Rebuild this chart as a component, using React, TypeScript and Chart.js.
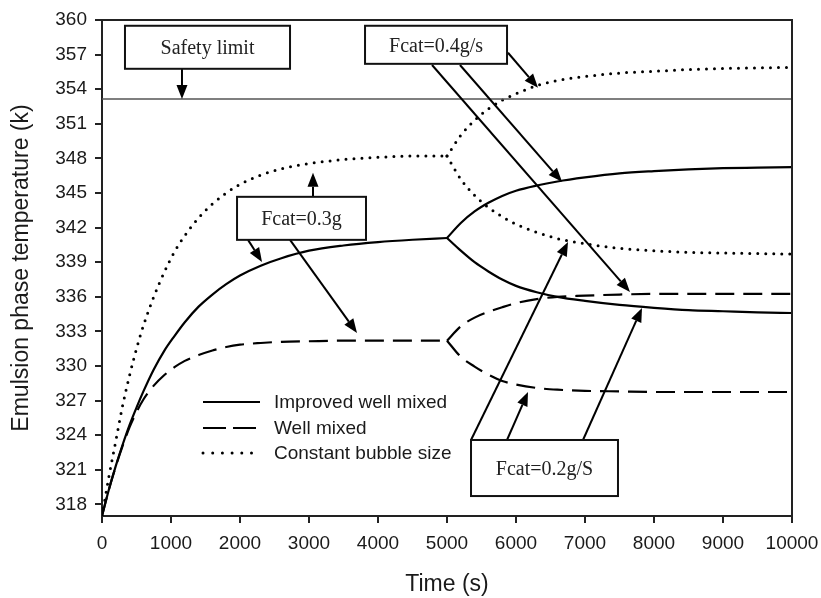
import React, { useEffect, useRef } from "react";
import { Chart, registerables } from "chart.js";

Chart.register(...registerables);

// ---------- data ----------
const BASE_TIME = [0, 100, 200, 300, 400, 500, 600, 750, 900, 1050, 1200, 1400, 1600, 1800, 2000, 2300, 2600, 3000, 3500, 4000, 4500, 5000];
const BRANCH_TIME = [5000, 5200, 5400, 5600, 5800, 6000, 6300, 6600, 7000, 7500, 8000, 8500, 9000, 9500, 10000];

// Improved well mixed (solid)
const IMPROVED_BASE = [317.0, 319.3, 321.35, 323.2, 324.9, 326.4, 327.8, 329.7, 331.3, 332.6, 333.8, 335.15, 336.2, 337.1, 337.85, 338.7, 339.35, 340.0, 340.45, 340.75, 340.95, 341.1];
const IMPROVED_HIGH = [341.1, 342.4, 343.4, 344.15, 344.75, 345.2, 345.65, 346.0, 346.35, 346.7, 346.9, 347.05, 347.15, 347.2, 347.25];
const IMPROVED_LOW = [341.1, 340.0, 339.0, 338.2, 337.5, 336.95, 336.4, 336.0, 335.65, 335.3, 335.05, 334.85, 334.75, 334.65, 334.6];

// Well mixed (dashed)
const WELL_BASE = [317.0, 319.3, 321.3, 323.1, 324.7, 326.0, 327.1, 328.3, 329.2, 329.9, 330.45, 330.95, 331.35, 331.65, 331.85, 332.0, 332.1, 332.15, 332.2, 332.2, 332.2, 332.2];
const WELL_HIGH = [332.2, 333.45, 334.2, 334.7, 335.1, 335.45, 335.8, 336.0, 336.1, 336.2, 336.25, 336.25, 336.25, 336.25, 336.25];
const WELL_LOW = [332.2, 330.8, 329.95, 329.25, 328.7, 328.4, 328.1, 327.95, 327.85, 327.8, 327.75, 327.75, 327.75, 327.75, 327.75];

// Constant bubble size (dotted)
const BUBBLE_BASE = [317.0, 320.4, 323.5, 326.6, 329.2, 331.5, 333.5, 336.0, 338.1, 339.9, 341.3, 342.85, 344.05, 345.0, 345.75, 346.55, 347.1, 347.55, 347.9, 348.1, 348.2, 348.2];
const BUBBLE_HIGH = [348.2, 350.0, 351.3, 352.3, 353.05, 353.6, 354.3, 354.75, 355.1, 355.4, 355.55, 355.7, 355.8, 355.85, 355.9];
const BUBBLE_LOW = [348.2, 346.2, 344.8, 343.75, 342.95, 342.3, 341.6, 341.05, 340.6, 340.2, 340.0, 339.85, 339.8, 339.75, 339.7];

const SAFETY_LIMIT = 353.15;

const Y_TICKS = [318, 321, 324, 327, 330, 333, 336, 339, 342, 345, 348, 351, 354, 357, 360];
const X_MIN = 0;
const X_MAX = 10000;
const X_STEP = 1000;
const Y_MIN = 317;
const Y_MAX = 360;

const LEGEND_LABELS = ["Improved well mixed", "Well mixed", "Constant bubble size"];

// annotation boxes in data units: [label, t0, t1, vTop, vBottom]
const BOXES: [string, number, number, number, number][] = [
  ["Safety limit", 333, 2725, 359.5, 355.77],
  ["Fcat=0.4g/s", 3812, 5870, 359.5, 356.2],
  ["Fcat=0.3g", 1957, 3826, 344.67, 340.94],
  ["Fcat=0.2g/S", 5348, 7478, 323.59, 318.73],
];
// arrows in data units: [tTail, vTail, tTip, vTip]
const ARROWS: [number, number, number, number][] = [
  [1159, 355.77, 1159, 353.15],
  [5884, 357.16, 6319, 354.13],
  [5188, 356.1, 6667, 345.97],
  [4783, 356.1, 7652, 336.43],
  [3058, 344.67, 3058, 346.75],
  [2116, 340.94, 2319, 339.03],
  [2725, 340.94, 3696, 332.87],
  [5348, 323.59, 6754, 340.76],
  [5870, 323.59, 6174, 327.75],
  [6971, 323.59, 7826, 335.04],
];

const pts = (t: number[], v: number[]) => t.map((x, i) => ({ x, y: v[i] }));

const SANS = '"Liberation Sans", Arial, sans-serif';
const SERIF = '"Liberation Serif", "Times New Roman", serif';

const SOLID: number[] = [];
const DASH = [19, 9];
const DOT = [0, 8];

function drawArrow(ctx: CanvasRenderingContext2D, x0: number, y0: number, x1: number, y1: number) {
  const ang = Math.atan2(y1 - y0, x1 - x0);
  const L = 14, W = 5.5;
  const bx = x1 - L * Math.cos(ang), by = y1 - L * Math.sin(ang);
  ctx.beginPath();
  ctx.moveTo(x0, y0);
  ctx.lineTo(bx, by);
  ctx.lineWidth = 2;
  ctx.strokeStyle = "#000";
  ctx.setLineDash([]);
  ctx.stroke();
  ctx.beginPath();
  ctx.moveTo(x1, y1);
  ctx.lineTo(bx + W * Math.sin(ang), by - W * Math.cos(ang));
  ctx.lineTo(bx - W * Math.sin(ang), by + W * Math.cos(ang));
  ctx.closePath();
  ctx.fillStyle = "#000";
  ctx.fill();
}

const overlayPlugin = {
  id: "overlay",
  afterDatasetsDraw(chart: any) {
    const { ctx, chartArea: ca, scales } = chart;
    const xs = scales.x, ys = scales.y;
    ctx.save();
    // top & right frame
    ctx.strokeStyle = "#222";
    ctx.lineWidth = 2;
    ctx.setLineDash([]);
    ctx.beginPath();
    ctx.moveTo(ca.left, ca.top);
    ctx.lineTo(ca.right, ca.top);
    ctx.lineTo(ca.right, ca.bottom);
    ctx.stroke();

    for (const a of ARROWS) {
      drawArrow(ctx, xs.getPixelForValue(a[0]), ys.getPixelForValue(a[1]), xs.getPixelForValue(a[2]), ys.getPixelForValue(a[3]));
    }
    ctx.font = `20px ${SERIF}`;
    ctx.textAlign = "center";
    ctx.textBaseline = "alphabetic";
    for (const b of BOXES) {
      const x0 = xs.getPixelForValue(b[1]), x1 = xs.getPixelForValue(b[2]);
      const y0 = ys.getPixelForValue(b[3]), y1 = ys.getPixelForValue(b[4]);
      ctx.fillStyle = "#fff";
      ctx.fillRect(x0, y0, x1 - x0, y1 - y0);
      ctx.strokeStyle = "#111";
      ctx.lineWidth = 2;
      ctx.strokeRect(x0, y0, x1 - x0, y1 - y0);
      ctx.fillStyle = "#222";
      ctx.fillText(b[0], (x0 + x1) / 2, (y0 + y1) / 2 + 7);
    }

    // legend
    const lx0 = ca.left + 101, lx1 = ca.left + 158, tx = ca.left + 172;
    const rows = [ca.top + 382, ca.top + 408, ca.top + 433];
    const dashes = [SOLID, [23, 7], [0, 9.7]];
    ctx.font = `19px ${SANS}`;
    ctx.textAlign = "left";
    ctx.textBaseline = "middle";
    for (let i = 0; i < 3; i++) {
      ctx.beginPath();
      ctx.setLineDash(dashes[i]);
      ctx.lineCap = i === 2 ? "round" : "butt";
      ctx.lineWidth = i === 2 ? 3 : 2.2;
      ctx.strokeStyle = "#000";
      ctx.moveTo(lx0, rows[i]);
      ctx.lineTo(lx1, rows[i]);
      ctx.stroke();
      ctx.setLineDash([]);
      ctx.fillStyle = "#1a1a1a";
      ctx.fillText(LEGEND_LABELS[i], tx, rows[i] + 1);
    }
    ctx.restore();
  },
};

export default function App() {
  const ref = useRef<HTMLCanvasElement | null>(null);
  useEffect(() => {
    if (!ref.current) return;
    const line = (label: string, t: number[], v: number[], dash: number[], opts: any = {}) => ({
      label,
      data: pts(t, v),
      borderColor: "#000",
      borderWidth: dash === DOT ? 3 : 2.2,
      borderDash: dash,
      borderCapStyle: dash === DOT ? "round" : "butt",
      pointRadius: 0,
      cubicInterpolationMode: "monotone",
      fill: false,
      ...opts,
    });
    const chart = new Chart(ref.current, {
      type: "line",
      data: {
        datasets: [
          {
            label: "Safety limit",
            data: [{ x: X_MIN, y: SAFETY_LIMIT }, { x: X_MAX, y: SAFETY_LIMIT }],
            borderColor: "#555",
            borderWidth: 1.6,
            pointRadius: 0,
            fill: false,
          },
          line(LEGEND_LABELS[0], BASE_TIME, IMPROVED_BASE, SOLID),
          line(LEGEND_LABELS[0] + " 0.4", BRANCH_TIME, IMPROVED_HIGH, SOLID),
          line(LEGEND_LABELS[0] + " 0.2", BRANCH_TIME, IMPROVED_LOW, SOLID),
          line(LEGEND_LABELS[1], BASE_TIME, WELL_BASE, DASH),
          line(LEGEND_LABELS[1] + " 0.4", BRANCH_TIME, WELL_HIGH, DASH),
          line(LEGEND_LABELS[1] + " 0.2", BRANCH_TIME, WELL_LOW, DASH),
          line(LEGEND_LABELS[2], BASE_TIME, BUBBLE_BASE, DOT),
          line(LEGEND_LABELS[2] + " 0.4", BRANCH_TIME, BUBBLE_HIGH, DOT),
          line(LEGEND_LABELS[2] + " 0.2", BRANCH_TIME, BUBBLE_LOW, DOT),
        ],
      },
      options: {
        animation: false,
        responsive: false,
        maintainAspectRatio: false,
        layout: { padding: { top: 20, right: 29, left: 0, bottom: 0 } },
        plugins: { legend: { display: false }, tooltip: { enabled: false } },
        scales: {
          x: {
            type: "linear",
            min: X_MIN,
            max: X_MAX,
            ticks: { stepSize: X_STEP, color: "#1a1a1a", font: { size: 19, family: SANS }, padding: 9, maxRotation: 0, callback: (v: any) => String(v) },
            grid: { drawOnChartArea: false, drawTicks: true, tickLength: 7, color: "#222", lineWidth: 2 },
            border: { display: true, color: "#222", width: 2 },
            title: { display: true, text: "Time (s)", color: "#1a1a1a", font: { size: 23, family: SANS }, padding: { top: 0, bottom: 0 } },
            afterFit: (s: any) => { s.height = 82; s.paddingLeft = 0; s.paddingRight = 0; },
          },
          y: {
            type: "linear",
            min: Y_MIN,
            max: Y_MAX,
            afterBuildTicks: (s: any) => { s.ticks = Y_TICKS.map((v) => ({ value: v })); },
            ticks: { color: "#1a1a1a", font: { size: 19, family: SANS }, padding: 8, callback: (v: any) => String(v) },
            grid: { drawOnChartArea: false, drawTicks: true, tickLength: 7, color: "#222", lineWidth: 2 },
            border: { display: true, color: "#222", width: 2 },
            title: { display: true, text: "Emulsion phase temperature (k)", color: "#1a1a1a", font: { size: 23, family: SANS }, padding: { top: 8, bottom: 0 } },
            afterFit: (s: any) => { s.width = 102; s.paddingTop = 0; s.paddingBottom = 0; },
          },
        },
      },
      plugins: [overlayPlugin],
    } as any);
    return () => chart.destroy();
  }, []);
  return (
    <div style={{ position: "absolute", left: 0, top: 0, width: 821, height: 598, background: "#fff" }}>
      <canvas ref={ref} width={821} height={598} />
    </div>
  );
}
